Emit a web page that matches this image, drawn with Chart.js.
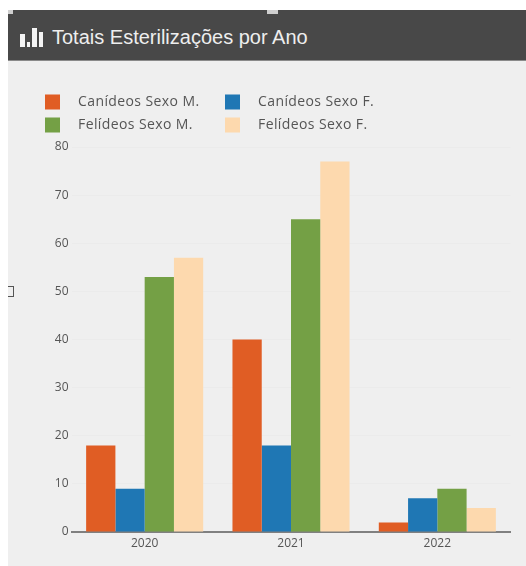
<!DOCTYPE html>
<html><head><meta charset="utf-8">
<script src="https://cdn.jsdelivr.net/npm/chart.js@4"></script>
<style>
html,body{margin:0;padding:0;background:#fff;width:526px;height:566px;overflow:hidden}
#wrap{position:absolute;left:0;top:0;width:526px;height:566px;filter:blur(0.6px)}
#panel{position:absolute;left:8px;top:10px;width:518px;height:556px;background:#efefef}
#head{position:absolute;left:8px;top:10px;width:518px;height:51px;background:#484848;border-bottom:1px solid #8a8a8a;box-sizing:border-box}
#title{position:absolute;left:52px;top:26px;font:20px/22px "Liberation Sans",Arial,sans-serif;color:#eee;white-space:nowrap}
.ib{position:absolute;background:#f4f4f4}
.tk{position:absolute;top:10px;height:4px;background:#cfcfcf}
#brk{position:absolute;left:8px;top:286px;width:6px;height:11px;border:1.5px solid #555;border-left:none;box-sizing:border-box}
#cv{position:absolute;left:8px;top:60px}
</style></head><body>
<div id="wrap">
<div id="panel"></div>
<div id="head"></div>
<div class="tk" style="left:8px;width:5px"></div>
<div class="tk" style="left:267px;width:11px"></div>
<div class="ib" style="left:20px;top:34px;width:5px;height:13px"></div>
<div class="ib" style="left:27px;top:42px;width:3px;height:5px"></div>
<div class="ib" style="left:32px;top:28px;width:5px;height:19px"></div>
<div class="ib" style="left:39px;top:32px;width:4px;height:15px"></div>
<div id="title">Totais Esterilizações por Ano</div>
<div id="brk"></div>
<canvas id="cv" width="518" height="506"></canvas>
</div>
<script>
const categories = ["2020","2021","2022"];
const caninosM = [18,40,2];
const caninosF = [9,18,7];
const felinosM = [53,65,9];
const felinosF = [57,77,5];
const seriesNames = ["Canídeos Sexo M.","Canídeos Sexo F.","Felídeos Sexo M.","Felídeos Sexo F."];
const seriesColors = ["#e05d24","#1f77b4","#74a045","#fdd9ae"];
const yTicks = [0,10,20,30,40,50,60,70,80];

const gridLegend = {
  id:"gridLegend",
  afterDraw(c){
    const g=c.ctx;
    const cols=[37,217], textCols=[70,250], rows=[42,65];
    g.save();
    g.font='14px "Open Sans",sans-serif';
    g.letterSpacing="0.4px";
    g.textBaseline="middle";
    c.data.datasets.forEach((d,i)=>{
      const col=i%2,row=i>>1;
      g.fillStyle=d.backgroundColor;
      g.fillRect(cols[col],rows[row]-7.5,15,15);
      g.fillStyle="#555";
      g.fillText(d.label,textCols[col],rows[row]);
    });
    g.restore();
  }
};

new Chart(document.getElementById("cv"),{
  type:"bar",
  data:{labels:categories,datasets:[caninosM,caninosF,felinosM,felinosF].map((v,i)=>({
    label:seriesNames[i],data:v,backgroundColor:seriesColors[i],
    barPercentage:1,categoryPercentage:0.8
  }))},
  options:{
    responsive:false,animation:false,
    plugins:{legend:{display:false},title:{display:false},tooltip:{enabled:false}},
    scales:{
      x:{
        afterFit(s){s.height=28},
        grid:{display:false,drawTicks:false},
        border:{color:"#808080",width:2},
        ticks:{color:"#555",font:{size:12,family:'"Open Sans",sans-serif'},padding:4,maxRotation:0}
      },
      y:{
        min:0,max:80,
        afterFit(s){s.width=63.5},
        afterBuildTicks(s){s.ticks=yTicks.map(value=>({value}))},
        grid:{color:"#ebebeb",drawTicks:false,lineWidth:1},
        border:{display:false},
        ticks:{color:"#555",font:{size:12,family:'"Open Sans",sans-serif'},padding:3}
      }
    }
  },
  plugins:[gridLegend,{id:"plotPad",beforeLayout(c){c.options.layout.padding={top:87,right:15.5,left:0,bottom:6}}}]
});
</script>
</body></html>
